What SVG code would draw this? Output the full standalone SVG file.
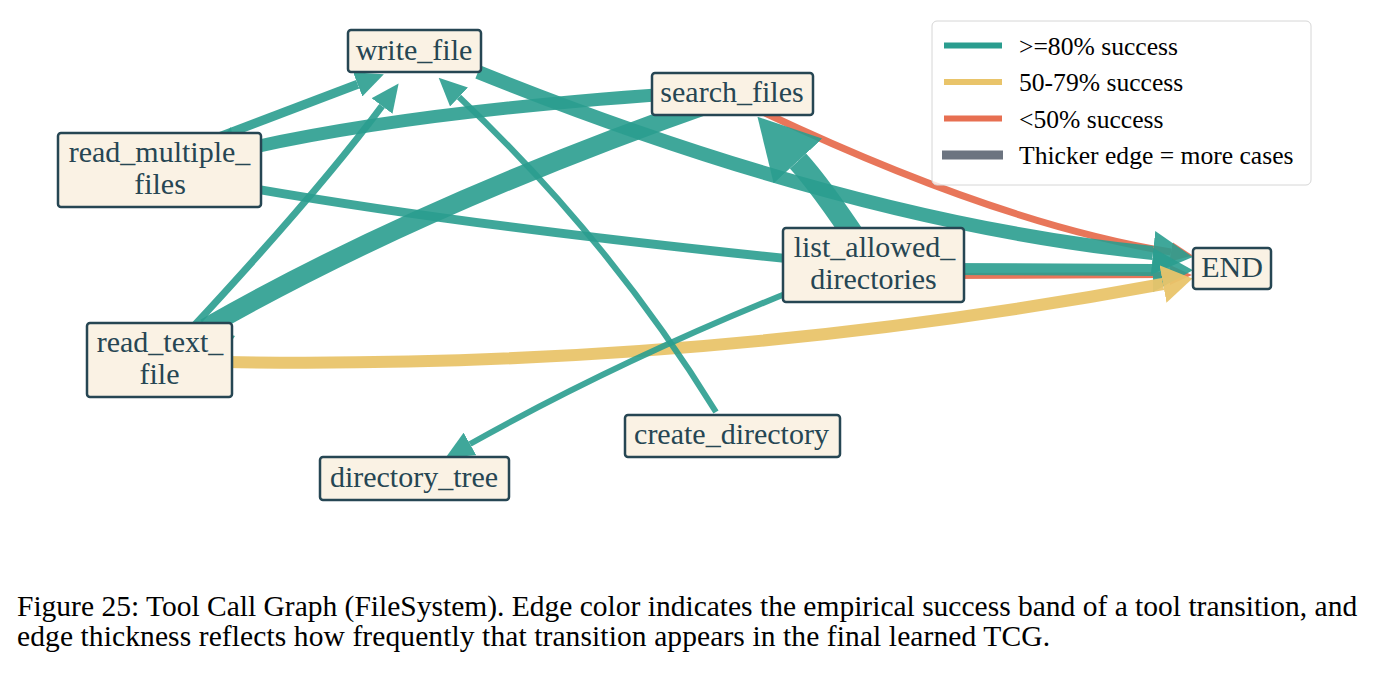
<svg xmlns="http://www.w3.org/2000/svg" width="1392" height="676" viewBox="0 0 1392 676">
<style>
.node rect{fill:#faf2e4;stroke:#264653;stroke-width:2.5}
.node text{font-family:"Liberation Serif","Times New Roman",Times,serif;font-size:30px;fill:#264653;text-anchor:middle}
.e{fill:none;stroke-linecap:butt}
.t{stroke:#2a9d8f;stroke-opacity:0.9}
.y{stroke:#e9c46a;stroke-opacity:0.95}
.r{stroke:#e76f51;stroke-opacity:0.95}
.leg text{font-family:"Liberation Serif","Times New Roman",Times,serif;font-size:25.6px;fill:#000}
.cap{font-family:"Liberation Serif","Times New Roman",Times,serif;font-size:29.5px;fill:#000}
</style>
<defs>
<marker id="tBig" markerUnits="userSpaceOnUse" markerWidth="60" markerHeight="66" viewBox="0 0 60 66" refX="0" refY="33" orient="auto"><path d="M0,0 L60,33 L0,66 Z" fill="#2a9d8f" fill-opacity="0.9"/></marker>
<marker id="tMed" markerUnits="userSpaceOnUse" markerWidth="40" markerHeight="44" viewBox="0 0 40 44" refX="0" refY="22" orient="auto"><path d="M0,0 L40,22 L0,44 Z" fill="#2a9d8f" fill-opacity="0.9"/></marker>
<marker id="tSm" markerUnits="userSpaceOnUse" markerWidth="28" markerHeight="26" viewBox="0 0 28 26" refX="0" refY="13" orient="auto"><path d="M0,0 L28,13 L0,26 Z" fill="#2a9d8f" fill-opacity="0.9"/></marker>
<marker id="ySm" markerUnits="userSpaceOnUse" markerWidth="30" markerHeight="38" viewBox="0 0 30 38" refX="0" refY="19" orient="auto"><path d="M0,0 L30,19 L0,38 Z" fill="#e9c46a" fill-opacity="0.95"/></marker>
<marker id="rSm" markerUnits="userSpaceOnUse" markerWidth="22" markerHeight="20" viewBox="0 0 22 20" refX="0" refY="10" orient="auto"><path d="M0,0 L22,10 L0,20 Z" fill="#e76f51" fill-opacity="0.95"/></marker>
</defs>
<rect width="1392" height="676" fill="#ffffff"/>
<g id="connectors">
  <path class="e r" stroke-width="7" d="M765,113 Q1000,224 1171,252" marker-end="url(#rSm)"/>
  <path class="e r" stroke-width="6" d="M940,276 L1170,275" marker-end="url(#rSm)"/>
  <path class="e t" stroke-width="13" d="M250,148 Q420,110 700,92"/>
  <path class="e t" stroke-width="9" d="M250,188 Q480,228 820,262"/>
  <path class="e t" stroke-width="19" d="M205,328 Q420,205 720,100"/>
  <path class="e t" stroke-width="9" d="M211,140 L357.7,84.3" marker-end="url(#tSm)"/>
  <path class="e t" stroke-width="7" d="M190,330 Q320,190 382,106" marker-end="url(#tSm)"/>
  <path class="e t" stroke-width="14" d="M478,72 Q850,222 1153,253" marker-end="url(#tMed)"/>
  <path class="e t" stroke-width="22" d="M860,245 Q820,185 798,161" marker-end="url(#tBig)"/>
  <path class="e t" stroke-width="12" d="M940,269 L1153,270" marker-end="url(#tMed)"/>
  <path class="e y" stroke-width="12" d="M225,362 Q700,370 1163,284" marker-end="url(#ySm)"/>
  <path class="e t" stroke-width="6" d="M716,412 Q610,240 459,97" marker-end="url(#tSm)"/>
  <path class="e t" stroke-width="6" d="M795,290 Q620,360 470,444" marker-end="url(#tSm)"/>
  <polygon points="226,133 231,127 232,134" fill="#2a9d8f" fill-opacity="0.9"/>
  <polygon points="229,334 235,336 231,342" fill="#2a9d8f" fill-opacity="0.9"/>
</g>
<g id="node-write_file" class="node"><rect x="348" y="30" width="133" height="42" rx="3"/><text x="414" y="60">write_file</text></g>
<g id="node-search_files" class="node"><rect x="652" y="73" width="161" height="42" rx="3"/><text x="732" y="101.5">search_files</text></g>
<g id="node-read_multiple_files" class="node"><rect x="58" y="133" width="203" height="74" rx="3"/><text x="159.5" y="162">read_multiple_</text><text x="160" y="194">files</text></g>
<g id="node-list_allowed_directories" class="node"><rect x="783" y="228" width="181" height="74" rx="3"/><text x="874.5" y="257">list_allowed_</text><text x="873.5" y="289">directories</text></g>
<g id="node-END" class="node"><rect x="1193" y="248" width="78" height="41" rx="3"/><text x="1232" y="277">END</text></g>
<g id="node-read_text_file" class="node"><rect x="87" y="323" width="145" height="74" rx="3"/><text x="160" y="352">read_text_</text><text x="159.5" y="384">file</text></g>
<g id="node-create_directory" class="node"><rect x="625" y="415" width="215" height="42" rx="3"/><text x="731.5" y="444">create_directory</text></g>
<g id="node-directory_tree" class="node"><rect x="320" y="457" width="189" height="43" rx="3"/><text x="414" y="486.5">directory_tree</text></g>
<g id="legend" class="leg">
  <rect x="932" y="21" width="379" height="164" rx="5" fill="#ffffff" fill-opacity="0.8" stroke="#d6d6d6" stroke-width="1"/>
  <line x1="944" y1="45.5" x2="1002" y2="45.5" stroke="#2a9d8f" stroke-width="6"/>
  <line x1="944" y1="82" x2="1002" y2="82" stroke="#e9c46a" stroke-width="6"/>
  <line x1="944" y1="118.5" x2="1002" y2="118.5" stroke="#e76f51" stroke-width="6"/>
  <line x1="942" y1="155" x2="1003" y2="155" stroke="#6c7480" stroke-width="9"/>
  <text x="1019" y="55">&gt;=80% success</text>
  <text x="1019" y="91">50-79% success</text>
  <text x="1019" y="127.5">&lt;50% success</text>
  <text x="1019" y="164">Thicker edge = more cases</text>
</g>
<g id="caption">
  <text class="cap" x="17" y="616">Figure 25: Tool Call Graph (FileSystem). Edge color indicates the empirical success band of a tool transition, and</text>
  <text class="cap" x="17" y="646" textLength="1033" lengthAdjust="spacing">edge thickness reflects how frequently that transition appears in the final learned TCG.</text>
</g>
</svg>
